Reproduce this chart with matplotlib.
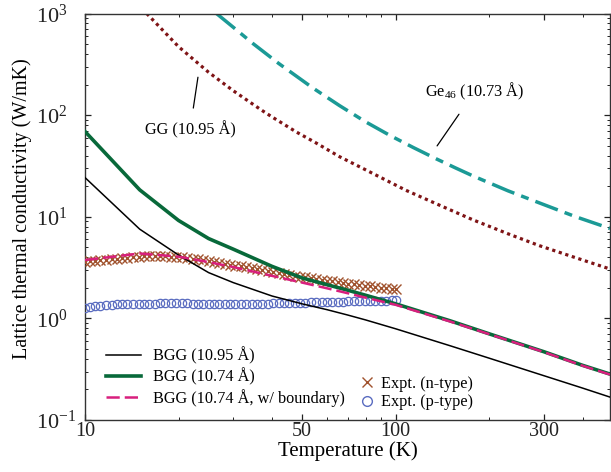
import numpy as np
import matplotlib
matplotlib.use("Agg")
import matplotlib.pyplot as plt
from matplotlib.ticker import FixedLocator, NullFormatter, FixedFormatter, LogLocator
from matplotlib.lines import Line2D

plt.rcParams['font.family'] = ['Liberation Serif', 'DejaVu Serif']
plt.rcParams['mathtext.fontset'] = 'custom'
plt.rcParams['mathtext.rm'] = 'Liberation Serif'
plt.rcParams['mathtext.it'] = 'Liberation Serif:italic'

# calculated curves
T_calc = [10, 15, 20, 25, 30, 40, 50, 60, 70, 80, 100, 150, 200, 300, 400, 490]
k_bgg_1095 = [24.3, 7.55, 4.2, 2.82, 2.25, 1.66, 1.39, 1.22, 1.08, 0.966, 0.79,
              0.537, 0.406, 0.273, 0.206, 0.168]
k_bgg_1074 = [69, 18.4, 9.2, 6.1, 4.8, 3.25, 2.5, 2.15, 1.895, 1.69, 1.39,
              0.945, 0.705, 0.47, 0.345, 0.283]
k_bgg_1074_b = [3.75, 4.35, 4.05, 3.58, 3.2, 2.62, 2.25, 1.98, 1.77, 1.60, 1.36,
                0.93, 0.70, 0.466, 0.342, 0.280]

T_gg = [15.8, 20, 25, 30, 37, 40, 48, 55, 66, 80, 108, 140, 177, 230, 290, 380, 490]
k_gg = [1000, 472, 264, 174, 112, 96, 68, 54, 39, 29, 18.2, 12.8, 9.35, 6.8, 5.2, 3.95, 3.06]

T_ge = [26.5, 30, 34.8, 42, 54, 66, 80, 96, 114, 135, 156, 177, 230, 290, 380, 490]
k_ge = [1000, 733, 504, 323, 186, 124, 86, 63, 48, 37.2, 30.2, 25.3, 18.0, 13.7, 10.0, 7.67]

# experimental data
T_expt = [10.0, 10.4, 10.8, 11.2, 11.7, 12.2, 12.7, 13.2, 13.7, 14.3, 14.9, 15.5,
          16.1, 16.8, 17.4, 18.1, 18.9, 19.7, 20.5, 21.3, 22.2, 23.1, 24.0, 25.0,
          26.0, 27.1, 28.2, 29.3, 30.5, 31.7, 33.0, 34.4, 35.8, 37.2, 38.7, 40.3,
          42.0, 43.7, 45.5, 47.3, 49.2, 51.2, 53.3, 55.5, 57.8, 60.1, 62.6, 65.1,
          67.8, 70.5, 73.4, 76.4, 79.5, 82.7, 86.1, 89.6, 93.3, 97.1, 100.0]
k_ntype = [3.58, 3.63, 3.68, 3.73, 3.78, 3.83, 3.88, 3.92, 3.96, 4.00, 4.04, 4.07,
           4.09, 4.10, 4.10, 4.09, 4.06, 4.02, 3.98, 3.93, 3.87, 3.81, 3.74, 3.67,
           3.60, 3.52, 3.45, 3.38, 3.31, 3.25, 3.18, 3.11, 3.05, 2.98, 2.92, 2.86,
           2.80, 2.74, 2.68, 2.63, 2.58, 2.53, 2.48, 2.44, 2.39, 2.35, 2.31, 2.27,
           2.23, 2.19, 2.16, 2.12, 2.09, 2.06, 2.03, 2.00, 1.98, 1.95, 1.93]
k_ptype = [1.27, 1.29, 1.31, 1.33, 1.35, 1.36, 1.37, 1.38, 1.38, 1.39, 1.39, 1.40,
           1.40, 1.40, 1.41, 1.41, 1.41, 1.41, 1.41, 1.41, 1.40, 1.40, 1.40, 1.40,
           1.39, 1.39, 1.39, 1.39, 1.39, 1.39, 1.39, 1.39, 1.40, 1.40, 1.40, 1.41,
           1.41, 1.42, 1.42, 1.42, 1.43, 1.43, 1.44, 1.44, 1.45, 1.45, 1.45, 1.46,
           1.46, 1.47, 1.47, 1.47, 1.48, 1.48, 1.48, 1.49, 1.49, 1.50, 1.50]

x_major = [10, 50, 100, 300]
x_minor = [20, 30, 40, 60, 70, 80, 90, 200, 400]

fig = plt.figure(figsize=(6.11, 4.72), dpi=100)
ax = fig.add_axes([85 / 611, 1 - 420 / 472, 525 / 611, 406.5 / 472])

ax.plot(T_ge, k_ge, color='#1b9a96', lw=2.5, dashes=(6.9, 2.1, 2.3, 2.1),
        dash_capstyle='butt')
ax.plot(T_gg, k_gg, color='#7f1416', lw=2.3, dashes=(1.0, 1.15),
        dash_capstyle='butt')

ax.plot(T_expt, k_ntype, 'x', color='#a0522d', ms=7.5, mew=1.0, zorder=3)
ax.plot(T_expt, k_ptype, 'o', mfc='none', mec='#5a6cc0', ms=6, mew=0.9, zorder=3)

l1, = ax.plot(T_calc, k_bgg_1095, color='black', lw=1.1, zorder=4)
l2, = ax.plot(T_calc, k_bgg_1074, color='#08693a', lw=2.6, zorder=4)
l3, = ax.plot(T_calc, k_bgg_1074_b, color='#d81f7d', lw=1.8, dashes=(5.3, 2.0),
              zorder=5)

ax.set_xscale('log')
ax.set_yscale('log')
ax.set_xlim(10, 490)
ax.set_ylim(0.1, 1000)

ax.xaxis.set_major_locator(FixedLocator(x_major))
ax.xaxis.set_major_formatter(FixedFormatter([str(v) for v in x_major]))
ax.xaxis.set_minor_locator(FixedLocator(x_minor))
ax.xaxis.set_minor_formatter(NullFormatter())
ax.yaxis.set_minor_locator(LogLocator(base=10, subs=np.arange(2, 10)))

ax.tick_params(which='both', direction='in', top=True, right=True,
               colors='#222222')
ax.tick_params(which='major', length=4.5, width=0.9)
ax.tick_params(which='minor', length=2.3, width=0.7)
ax.tick_params(axis='x', which='major', labelsize=14.5, pad=1.5)
ax.tick_params(axis='y', which='major', labelsize=16, pad=35)
for lab in ax.get_yticklabels():
    lab.set_horizontalalignment('left')
for s in ax.spines.values():
    s.set_linewidth(1.0)
    s.set_color('#333333')

ax.set_xlabel('Temperature (K)', fontsize=15, labelpad=0)
ax.set_ylabel('Lattice thermal conductivity (W/mK)', fontsize=14.5)
ax.yaxis.set_label_coords(-53 / 525, 0.519)

# curve labels
ax.annotate('GG (10.95 Å)', xy=(23.1, 236), xytext=(21.8, 72.7),
            fontsize=11.7, ha='center', va='center',
            arrowprops=dict(arrowstyle='-', color='black', lw=0.9,
                            shrinkA=7, shrinkB=0))
ax.annotate('Ge$_{46}$ (10.73 Å)', xy=(136, 49.8), xytext=(179.5, 170),
            fontsize=11.7, ha='center', va='center',
            arrowprops=dict(arrowstyle='-', color='black', lw=0.9,
                            shrinkA=8, shrinkB=0))

leg1 = ax.legend([l1, l2, l3],
                 ['BGG (10.95 Å)', 'BGG (10.74 Å)', 'BGG (10.74 Å, w/ boundary)'],
                 loc='lower left', bbox_to_anchor=(0.027, 0.017), frameon=False,
                 fontsize=11.7, handlelength=2.15, handletextpad=0.75,
                 labelspacing=0.2, borderaxespad=0.0)
ax.add_artist(leg1)
h_n = Line2D([], [], ls='none', marker='x', color='#a0522d', ms=7, mew=1.0)
h_p = Line2D([], [], ls='none', marker='o', mfc='none', mec='#5a6cc0', ms=7, mew=1.0)
ax.legend([h_n, h_p], ['Expt. (n-type)', 'Expt. (p-type)'],
          loc='lower left', bbox_to_anchor=(0.51, 0.008), frameon=False,
          fontsize=11.7, handlelength=0.9, handletextpad=0.45,
          labelspacing=0.15, borderaxespad=0.0)

fig.savefig('out.png', dpi=100)
